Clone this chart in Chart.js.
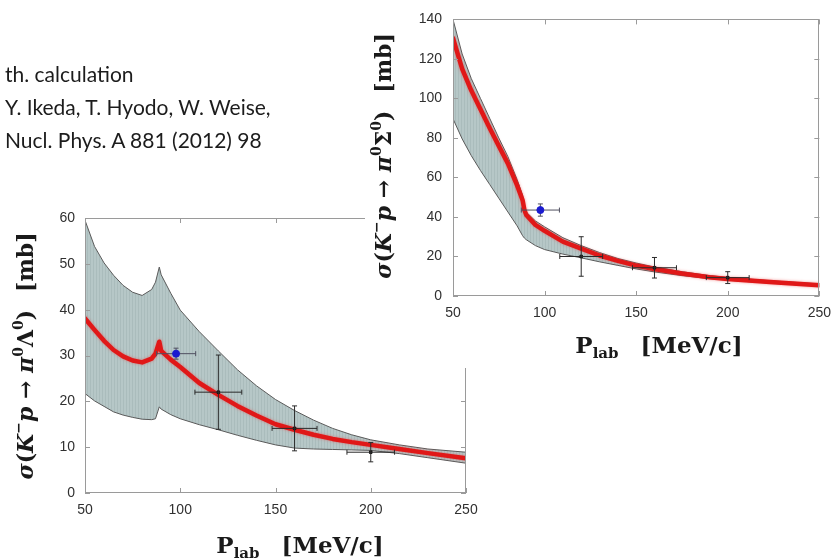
<!DOCTYPE html>
<html>
<head>
<meta charset="utf-8">
<script src="https://cdn.jsdelivr.net/npm/chart.js@4.4.0/dist/chart.umd.min.js"></script>
<style>
  html, body { margin: 0; padding: 0; background: #fff; }
  #page { position: relative; width: 840px; height: 559px; overflow: hidden; background: #fff; }
  #lam { position: absolute; left: 0; top: 0; }
  #sig { position: absolute; left: 365px; top: 0; background: #fff; }
  #note { position: absolute; left: 5px; top: 57px; font-family: Lato, sans-serif; font-size: 21px;
          line-height: 33px; color: #1c1c1c; white-space: nowrap; }
</style>
</head>
<body>
<div id="page">
  <canvas id="lam" width="840" height="559"></canvas>
  <canvas id="sig" width="475" height="368"></canvas>
  <div id="note">th. calculation<br>Y. Ikeda, T. Hyodo, W. Weise,<br>Nucl. Phys. A 881 (2012) 98</div>
</div>
<script>
// ---------- K- p -> pi0 Lambda0 ----------
const lamP     = [50, 55, 60, 65, 70, 75, 80, 85, 87, 89, 90, 95, 100, 110, 120, 130, 140, 150, 160, 170, 180, 190, 200, 215, 230, 250];
const lamUpper = [59.5, 53.8, 50.2, 47.5, 45.3, 43.8, 43.1, 44.4, 46.0, 49.3, 47.6, 43.6, 39.9, 35.2, 31.0, 26.9, 23.4, 20.4, 18.0, 15.9, 14.1, 12.7, 11.6, 10.5, 9.6, 8.9];
const lamLower = [21.7, 20.1, 18.9, 17.7, 17.0, 16.5, 16.1, 16.0, 16.2, 18.8, 18.3, 17.1, 16.2, 14.9, 13.8, 12.6, 11.5, 10.5, 9.8, 9.6, 9.5, 9.4, 9.3, 8.6, 7.7, 6.5];
const lamCalc  = [38.1, 35.6, 33.2, 31.2, 29.8, 28.9, 28.5, 29.3, 30.4, 33.0, 31.0, 29.1, 27.5, 24.0, 21.4, 19.0, 16.9, 15.0, 13.8, 12.7, 11.8, 11.1, 10.5, 9.6, 8.7, 7.6];
// measured cross sections (older data, black) and the new point (blue)
const lamExpP    = [120, 160, 200];
const lamExpV    = [22.0, 14.1, 8.9];
const lamExpErrP = [12.3, 11.8, 12.5];
const lamExpErrV = [8.1, 4.9, 2.1];
const lamNewP    = [97.8];
const lamNewV    = [30.4];
const lamNewErrP = [10.3];
const lamNewErrV = [1.2];
const lamYTicks  = [0, 60, 10];   // min, max, step

// ---------- K- p -> pi0 Sigma0 ----------
const sigP     = [50, 55, 60, 65, 70, 75, 80, 85, 88, 89, 90, 95, 100, 110, 120, 130, 140, 150, 160, 175, 190, 200, 225, 250];
const sigUpper = [140, 122.5, 110, 100, 90, 80, 70.5, 59, 51, 45, 42.5, 38, 35, 29.5, 25.5, 22, 19, 16.7, 14.7, 12.3, 10.3, 9.4, 7.6, 6.1];
const sigLower = [89.7, 79.5, 71, 63.5, 56.5, 49.5, 42.5, 35.5, 30.5, 29.3, 28.5, 25.5, 23.5, 21.2, 19.3, 17.3, 15.5, 13.7, 12.2, 10.3, 8.8, 8.0, 6.4, 5.0];
const sigCalc  = [130.5, 115, 104, 94.5, 85, 76, 67, 56, 48.5, 43.5, 41, 36, 33, 27.5, 24, 20.5, 17.8, 15.4, 13.7, 11.4, 9.5, 8.6, 7.0, 5.5];
const sigExpP    = [120, 160, 200];
const sigExpV    = [20.0, 14.3, 9.3];
const sigExpErrP = [11.7, 12, 11.7];
const sigExpErrV = [10, 5.2, 3];
const sigNewP    = [97.7];
const sigNewV    = [43.5];
const sigNewErrP = [10.4];
const sigNewErrV = [3.1];
const sigYTicks  = [0, 140, 20];

const xTicks = [50, 250, 50];

const pts = (xs, ys) => xs.map((x, i) => ({ x: x, y: ys[i] }));

function bandPattern(ctx) {
  const c = document.createElement('canvas');
  c.width = 3; c.height = 4;
  const g = c.getContext('2d');
  g.fillStyle = '#b6c7c7'; g.fillRect(0, 0, 3, 4);
  g.fillStyle = '#aabcbc'; g.fillRect(0, 0, 1, 4);
  return ctx.createPattern(c, 'repeat');
}

function richWidth(ctx, segs) {
  let w = 0;
  for (const s of segs) { ctx.font = s.f; w += (s.gap || 0) + ctx.measureText(s.t).width; }
  return w;
}
function drawRich(ctx, segs, x, y, rot) {
  ctx.save();
  ctx.translate(x, y);
  if (rot) ctx.rotate(rot);
  const w = richWidth(ctx, segs);
  let cx = -w / 2;
  ctx.textBaseline = 'alphabetic';
  ctx.textAlign = 'left';
  ctx.fillStyle = '#1a1a1a';
  for (const s of segs) {
    cx += (s.gap || 0);
    ctx.font = s.f;
    ctx.fillText(s.t, cx, s.dy || 0);
    cx += ctx.measureText(s.t).width;
  }
  ctx.restore();
}

const BI = 'italic bold 22px "DejaVu Serif"';
const B = 'bold 22px "DejaVu Serif"';
const SUP = 'bold 14px "DejaVu Serif"';
function yTitle(baryon) {
  return [
    { t: 'σ', f: BI }, { t: '(', f: B }, { t: 'K', f: BI }, { t: '−', f: SUP, dy: -10 },
    { t: 'p', f: BI }, { t: ' → ', f: B }, { t: 'π', f: BI }, { t: '0', f: SUP, dy: -10 },
    { t: baryon, f: B }, { t: '0', f: SUP, dy: -10 }, { t: ')', f: B }, { t: '[mb]', f: B, gap: 18 }
  ];
}
const xTitle = [
  { t: 'P', f: 'bold 23px "DejaVu Serif"' },
  { t: 'lab', f: 'bold 15px "DejaVu Serif"', dy: 5 },
  { t: '[MeV/c]', f: 'bold 23px "DejaVu Serif"', gap: 22 }
];

// frame, inward tick marks, error bars, glow on the calculated curve, axis titles
function decorations(cfg) {
  return {
    id: 'decor',
    beforeDatasetDraw(chart, args) {
      const ctx = chart.ctx;
      if (args.index === 2) {
        ctx.save();
        ctx.shadowColor = 'rgba(235,60,60,0.55)';
        ctx.shadowBlur = 3;
      }
      if (args.index === 0) {
        const xs = chart.scales.x, ys = chart.scales.y;
        ctx.save();
        ctx.lineWidth = 1;
        for (const set of cfg.errors) {
          ctx.strokeStyle = set.color;
          set.p.forEach((p, i) => {
            const v = set.v[i];
            const px = xs.getPixelForValue(p), py = ys.getPixelForValue(v);
            const x0 = xs.getPixelForValue(p - set.dp[i]), x1 = xs.getPixelForValue(p + set.dp[i]);
            const y0 = ys.getPixelForValue(v - set.dv[i]), y1 = ys.getPixelForValue(v + set.dv[i]);
            const c = 2.5;
            ctx.beginPath();
            ctx.moveTo(x0, py); ctx.lineTo(x1, py);
            ctx.moveTo(x0, py - c); ctx.lineTo(x0, py + c);
            ctx.moveTo(x1, py - c); ctx.lineTo(x1, py + c);
            ctx.moveTo(px, y0); ctx.lineTo(px, y1);
            ctx.moveTo(px - c, y0); ctx.lineTo(px + c, y0);
            ctx.moveTo(px - c, y1); ctx.lineTo(px + c, y1);
            ctx.stroke();
          });
        }
        ctx.restore();
      }
    },
    afterDatasetDraw(chart, args) {
      if (args.index === 2) chart.ctx.restore();
    },
    afterDraw(chart) {
      const ctx = chart.ctx, a = chart.chartArea;
      const xs = chart.scales.x, ys = chart.scales.y;
      ctx.save();
      ctx.strokeStyle = '#9a9a9a';
      ctx.lineWidth = 1;
      ctx.strokeRect(Math.round(a.left) + 0.5, Math.round(a.top) + 0.5,
                     Math.round(a.right - a.left) - 1, Math.round(a.bottom - a.top) - 1);
      const L = 5;
      ctx.beginPath();
      for (const t of xs.ticks) {
        const x = Math.round(xs.getPixelForValue(t.value)) + 0.5;
        ctx.moveTo(x, a.bottom); ctx.lineTo(x, a.bottom - L);
        ctx.moveTo(x, a.top); ctx.lineTo(x, a.top + L);
      }
      for (const t of ys.ticks) {
        const y = Math.round(ys.getPixelForValue(t.value)) + 0.5;
        ctx.moveTo(a.left, y); ctx.lineTo(a.left + L, y);
        ctx.moveTo(a.right, y); ctx.lineTo(a.right - L, y);
      }
      ctx.stroke();
      ctx.restore();
      drawRich(ctx, cfg.yTitle, cfg.yTitleX, cfg.yTitleY, -Math.PI / 2);
      drawRich(ctx, xTitle, cfg.xTitleX, cfg.xTitleY, 0);
    }
  };
}

function makeChart(canvas, d) {
  const ctx = canvas.getContext('2d');
  const tickFont = { family: '"Liberation Sans", Arial, sans-serif', size: 14 };
  return new Chart(ctx, {
    type: 'line',
    data: {
      datasets: [
        { type: 'scatter', data: pts(d.newP, d.newV), pointStyle: 'circle', pointRadius: 3.5,
          backgroundColor: '#1a1ad0', borderColor: '#1a1ad0', showLine: false },
        { type: 'scatter', data: pts(d.expP, d.expV), pointStyle: 'rect', pointRadius: 1.8,
          backgroundColor: '#111', borderColor: '#111', showLine: false },
        { data: pts(d.p, d.calc), borderColor: '#e01818', borderWidth: 4.5, pointRadius: 0,
          tension: 0, fill: false, borderJoinStyle: 'round', borderCapStyle: 'round' },
        { data: pts(d.p, d.upper), borderColor: '#5a5a5a', borderWidth: 1, pointRadius: 0,
          tension: 0, fill: '+1', backgroundColor: bandPattern(ctx) },
        { data: pts(d.p, d.lower), borderColor: '#5a5a5a', borderWidth: 1, pointRadius: 0,
          tension: 0, fill: false }
      ]
    },
    options: {
      responsive: false,
      animation: false,
      devicePixelRatio: 1,
      parsing: false,
      layout: { padding: d.padding },
      plugins: {
        legend: { display: false },
        tooltip: { enabled: false },
        filler: { drawTime: 'beforeDatasetsDraw' }
      },
      scales: {
        x: {
          type: 'linear', min: xTicks[0], max: xTicks[1],
          ticks: { stepSize: xTicks[2], padding: 9, font: tickFont, color: '#303030',
                   autoSkip: false, maxRotation: 0 },
          grid: { display: false, drawTicks: false },
          border: { display: false },
          afterFit(s) { s.height = 30; }
        },
        y: {
          type: 'linear', min: d.yTicks[0], max: d.yTicks[1],
          ticks: { stepSize: d.yTicks[2], padding: d.yPad, font: tickFont, color: '#303030', autoSkip: false },
          grid: { display: false, drawTicks: false },
          border: { display: false },
          afterFit(s) { s.width = d.yWidth; }
        }
      }
    },
    plugins: [decorations({
      errors: [
        { p: d.expP, v: d.expV, dp: d.expErrP, dv: d.expErrV, color: '#2a2a2a' },
        { p: d.newP, v: d.newV, dp: d.newErrP, dv: d.newErrV, color: '#505060' }
      ],
      yTitle: yTitle(d.baryon), yTitleX: d.yTitleX, yTitleY: d.yTitleY,
      xTitleX: d.xTitleX, xTitleY: d.xTitleY
    })]
  });
}

makeChart(document.getElementById('lam'), {
  p: lamP, upper: lamUpper, lower: lamLower, calc: lamCalc,
  expP: lamExpP, expV: lamExpV, expErrP: lamExpErrP, expErrV: lamExpErrV,
  newP: lamNewP, newV: lamNewV, newErrP: lamNewErrP, newErrV: lamNewErrV,
  yTicks: lamYTicks, baryon: 'Λ',
  padding: { left: 0, top: 218, right: 374, bottom: 36 }, yWidth: 85, yPad: 10,
  yTitleX: 33, yTitleY: 356, xTitleX: 300, xTitleY: 553
});

makeChart(document.getElementById('sig'), {
  p: sigP, upper: sigUpper, lower: sigLower, calc: sigCalc,
  expP: sigExpP, expV: sigExpV, expErrP: sigExpErrP, expErrV: sigExpErrV,
  newP: sigNewP, newV: sigNewV, newErrP: sigNewErrP, newErrV: sigNewErrV,
  yTicks: sigYTicks, baryon: 'Σ',
  padding: { left: 0, top: 16, right: 16, bottom: 42 }, yWidth: 88, yPad: 11,
  yTitleX: 26, yTitleY: 156, xTitleX: 294, xTitleY: 353
});
</script>
</body>
</html>
